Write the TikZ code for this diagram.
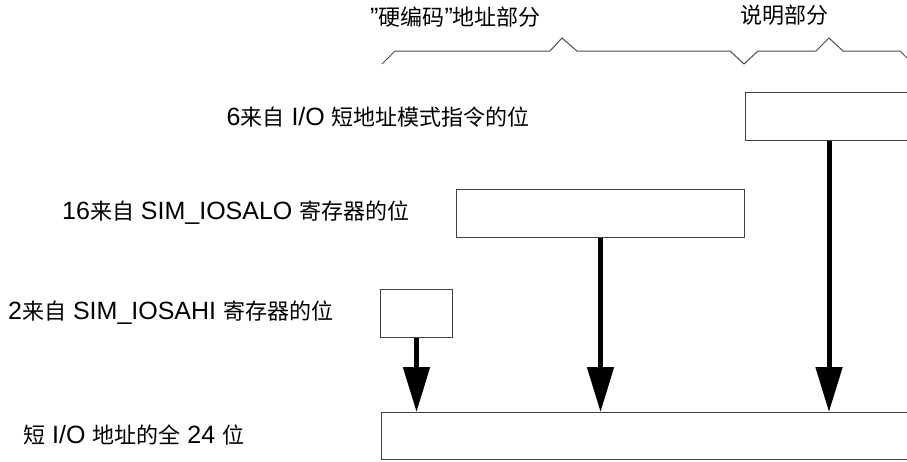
\documentclass[tikz,border=0pt]{standalone}
\usepackage{fontspec}
\setmainfont{Liberation Sans}
\newfontfamily\zhfont{Noto Sans CJK SC}[Scale=0.88]
\newcommand{\zh}[1]{{\zhfont #1}}
\usetikzlibrary{arrows.meta}

\begin{document}
\begin{tikzpicture}[x=1pt,y=-1pt,
    field/.style={draw=black!75,line width=1pt,fill=white,inner sep=0pt,anchor=north west},
    feed/.style={line width=5pt,-{Triangle[width=26pt,length=45pt]}},
    lbl/.style={inner sep=0pt,font=\fontsize{25}{28}\selectfont},
    brace/.style={draw=black!70,line width=1pt}]
    \useasboundingbox (0,0) rectangle (907,461);
    \clip (0,0) rectangle (907,461);
    \node [field,minimum width=560pt,minimum height=47pt] (full) at (381,412) {};
    \node [field,minimum width=72pt,minimum height=48pt] (hi) at (380,289) {};
    \node [field,minimum width=288pt,minimum height=48pt] (lo) at (456,189) {};
    \node [field,minimum width=200pt,minimum height=48pt] (mode) at (745,92) {};
    \coordinate (tap) at ([xshift=84pt]mode.south west);
    \draw [feed] (hi.south) -- (hi.south |- full.north);
    \draw [feed] (lo.south) -- (lo.south |- full.north);
    \draw [feed] (tap) -- (tap |- full.north);
    \draw [brace] (382,64) -- (395,51) -- (550,51) -- (562,38) -- (577,51)
      -- (730,51) -- (744,64) -- (758,51) -- (816,51) -- (829,38) -- (843,51)
      -- (900,51) -- (913,64);
    \node [lbl,anchor=east] (modetxt) at (530,117) {6\zh{来自} I/O \zh{短地址模式指令的位}};
    \node [lbl,anchor=west] (lotxt) at (62,213) {16\zh{来自} SIM\_IOSALO \zh{寄存器的位}};
    \node [lbl,anchor=west] (hitxt) at (8,313) {2\zh{来自} SIM\_IOSAHI \zh{寄存器的位}};
    \node [lbl,anchor=west] (fulltxt) at (23,435) {\zh{短} I/O \zh{地址的全} 24 \zh{位}};
    \node [lbl,anchor=west] (hardtxt) at (370,17) {”\zh{硬编码}"\zh{地址部分}};
    \node [lbl,anchor=west] (desctxt) at (740,15) {\zh{说明部分}};
  \end{tikzpicture}
\end{document}
